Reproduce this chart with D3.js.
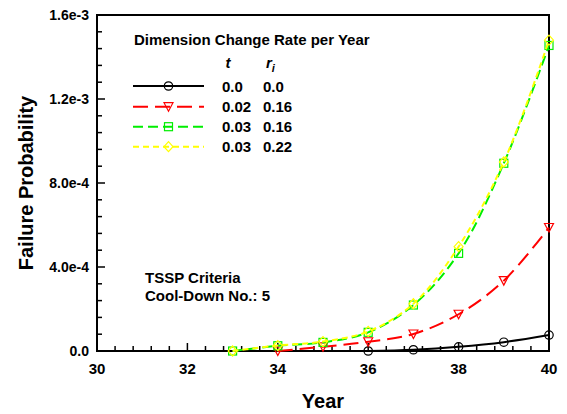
<!DOCTYPE html>
<html><head><meta charset="utf-8">
<script src="https://cdn.jsdelivr.net/npm/d3@7"></script>
<style>body{margin:0;background:#fff}text{font-family:Arial,"Liberation Sans",sans-serif;font-weight:bold}</style>
</head><body><svg id="c" width="567" height="414"></svg>
<script>
const years = [33,34,35,36,37,38,39,40];
const seriesNames = ["s1","s2","s3","s4"];
const tVals = ["0.0","0.02","0.03","0.03"];
const rVals = ["0.0","0.16","0.16","0.22"];
const black = [null,null,null,0,0.6e-5,2.0e-5,4.2e-5,7.6e-5];
const red = [null,0,2.0e-5,4.4e-5,8.1e-5,1.75e-4,3.35e-4,5.88e-4];
const green = [0,2.5e-5,4.1e-5,8.9e-5,2.19e-4,4.65e-4,8.94e-4,1.455e-3];
const yellow = [0,2.6e-5,4.5e-5,9.3e-5,2.25e-4,4.97e-4,9.0e-4,1.48e-3];
const xTicks = [30,32,34,36,38,40];
const yTicks = [0,4e-4,8e-4,1.2e-3,1.6e-3];
const yTickLabels = ["0.0","4.0e-4","8.0e-4","1.2e-3","1.6e-3"];

const styles = [
  {data:black, color:"#000000", dash:null, marker:"circle"},
  {data:red, color:"#ff0000", dash:"15,7", marker:"tri"},
  {data:green, color:"#00ee00", dash:"10,5", marker:"square"},
  {data:yellow, color:"#ffff00", dash:"6,4", marker:"diamond"}
];

const svg = d3.select("#c");
const L=97,R=549,T=15,B=351;
const x = d3.scaleLinear().domain([30,40]).range([L,R]);
const y = d3.scaleLinear().domain([0,1.6e-3]).range([B,T]);

// frame
svg.append("rect").attr("x",L).attr("y",T).attr("width",R-L).attr("height",B-T)
  .attr("fill","none").attr("stroke","#000").attr("stroke-width",2);

// x ticks
const xMinor = d3.range(30,40.001,0.4);
svg.append("g").selectAll("line").data(xMinor).join("line")
  .attr("x1",d=>x(d)).attr("x2",d=>x(d)).attr("y1",B)
  .attr("y2",d=>Math.abs(d/2-Math.round(d/2))<1e-6? B-8 : B-5)
  .attr("stroke","#000").attr("stroke-width",1.5);
svg.append("g").selectAll("text").data(xTicks).join("text")
  .attr("x",d=>x(d)).attr("y",374).attr("text-anchor","middle")
  .attr("font-size",15).text(d=>d);

// y ticks
const yMinor = d3.range(0,1.6e-3+1e-9,0.8e-4);
svg.append("g").selectAll("line").data(yMinor).join("line")
  .attr("y1",d=>y(d)).attr("y2",d=>y(d)).attr("x1",L)
  .attr("x2",(d,i)=> i%5===0 ? L+8 : L+5)
  .attr("stroke","#000").attr("stroke-width",1.5);
svg.append("g").selectAll("text").data(yTicks).join("text")
  .attr("x",89).attr("y",d=>y(d)+5).attr("text-anchor","end")
  .attr("font-size",14).text((d,i)=>yTickLabels[i]);

// axis titles
svg.append("text").attr("x",323).attr("y",408).attr("text-anchor","middle").attr("font-size",20).text("Year");
svg.append("text").attr("transform","translate(33,183) rotate(-90)").attr("text-anchor","middle").attr("font-size",20).text("Failure Probability");

function drawMarker(g, type, cx, cy, color){
  if(type==="circle") g.append("circle").attr("cx",cx).attr("cy",cy).attr("r",4.2).attr("fill","none").attr("stroke",color).attr("stroke-width",1.2);
  else if(type==="tri") g.append("path").attr("d",`M${cx-4.5},${cy-4} L${cx+4.5},${cy-4} L${cx},${cy+4.5} Z`).attr("fill","none").attr("stroke",color).attr("stroke-width",1.2);
  else if(type==="square") g.append("rect").attr("x",cx-4).attr("y",cy-4).attr("width",8).attr("height",8).attr("fill","none").attr("stroke",color).attr("stroke-width",1.2);
  else g.append("path").attr("d",`M${cx},${cy-5} L${cx+4.5},${cy} L${cx},${cy+5} L${cx-4.5},${cy} Z`).attr("fill","none").attr("stroke",color).attr("stroke-width",1.2);
}

const line = d3.line().defined(d=>d[1]!==null).x(d=>x(d[0])).y(d=>y(d[1])).curve(d3.curveCatmullRom.alpha(0.5));
const plot = svg.append("g");
styles.forEach(s=>{
  const pts = years.map((yr,i)=>[yr,s.data[i]]).filter(d=>d[1]!==null);
  plot.append("path").attr("d",line(pts)).attr("fill","none").attr("stroke",s.color)
    .attr("stroke-width",2).attr("stroke-dasharray",s.dash);
  pts.forEach(p=>drawMarker(plot,s.marker,x(p[0]),y(p[1]),s.color));
});

// legend
const lg = svg.append("g");
lg.append("text").attr("x",134).attr("y",45).attr("font-size",15).text("Dimension Change Rate per Year");
lg.append("text").attr("x",228).attr("y",68).attr("text-anchor","middle").attr("font-size",15).attr("font-style","italic").text("t");
const rt = lg.append("text").attr("x",266).attr("y",68).attr("font-size",15).attr("font-style","italic");
rt.append("tspan").text("r");
rt.append("tspan").attr("dy",4).attr("font-size",11).text("i");
const rows=[86,106.7,126.7,146.7];
styles.forEach((s,i)=>{
  lg.append("line").attr("x1",133).attr("x2",204).attr("y1",rows[i]).attr("y2",rows[i])
    .attr("stroke",s.color).attr("stroke-width",2).attr("stroke-dasharray",s.dash);
  drawMarker(lg,s.marker,168.5,rows[i],s.color);
  lg.append("text").attr("x",222).attr("y",rows[i]+5.5).attr("font-size",15).text(tVals[i]);
  lg.append("text").attr("x",263).attr("y",rows[i]+5.5).attr("font-size",15).text(rVals[i]);
});

svg.append("text").attr("x",145).attr("y",283).attr("font-size",15).text("TSSP Criteria");
svg.append("text").attr("x",145).attr("y",301).attr("font-size",15).text("Cool-Down No.: 5");
</script></body></html>
